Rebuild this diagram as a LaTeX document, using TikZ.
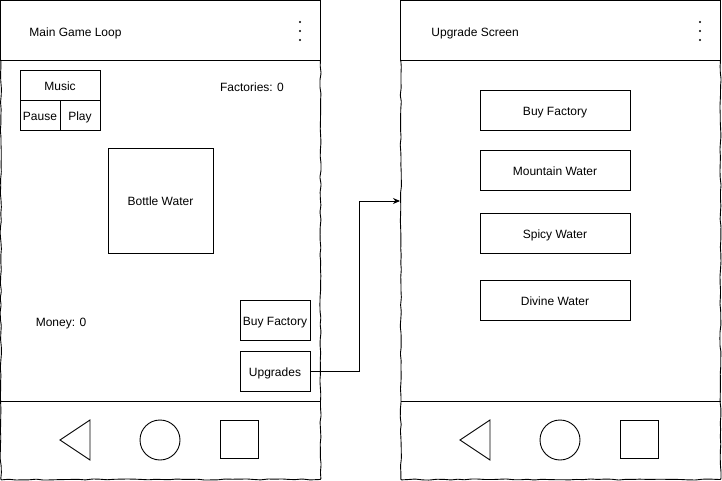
\documentclass[tikz,border=0pt]{standalone}
\usepackage{fontspec}
\setmainfont{Liberation Sans}
\usetikzlibrary{arrows.meta,decorations.pathmorphing}

\tikzset{
  ui/.style={font=\fontsize{12}{14}\selectfont, inner sep=0pt, text height=10.5pt, text depth=0pt},
  btn/.style={ui, draw},
  wobble/.style={decorate, decoration={random steps, segment length=7pt, amplitude=0.6pt},
                 rounded corners=0.8pt},
}

\begin{document}
\begin{tikzpicture}[x=1pt, y=-1pt, line width=0.9pt]
  \pgfmathsetseed{7}
  \useasboundingbox (0,0) rectangle (722,481);

  % the two phone frames
  \foreach \dx in {0,400} {
    \begin{scope}[xshift=\dx]
      \draw                (0.5,0.5) rectangle (320.5,60);
      \draw[wobble]        (0.8,60) -- (0.8,479.5) -- (320.5,479.5) -- (320.5,60);
      \draw                (0.5,401) -- (320.5,401);
      \fill                (300,22) circle (1.1) (300,31) circle (1.1) (300,40) circle (1.1);
      \draw                (60,440) -- (90,420) -- (90,460) -- cycle;
      \draw                (160,440) circle (20);
      \draw                (220,420) rectangle (258,458);
    \end{scope}
  }

  % main game loop
  \node[ui, anchor=west]  (title1)    at (29,31)   {Main Game Loop};
  \node[btn, minimum width=80, minimum height=30] (music) at (60,85)  {Music};
  \node[btn, minimum width=40, minimum height=30] (pause) at (40,115) {Pause};
  \node[btn, minimum width=40, minimum height=30] (play)  at (80,115) {Play};
  \node[ui]               (factories) at (252,86)  {Factories: 0};
  \node[btn, minimum width=105, minimum height=105] (bottle) at (160.5,200.5) {Bottle Water};
  \node[ui]               (money)     at (61,321)  {Money: 0};
  \node[btn, minimum width=70, minimum height=40] (buyfac)   at (275,320.5) {Buy Factory};
  \node[btn, minimum width=70, minimum height=40] (upgrades) at (275,371)   {Upgrades};

  % upgrade screen
  \node[ui, anchor=west]  (title2)    at (431,31)  {Upgrade Screen};
  \node[btn, minimum width=150, minimum height=40] (shopfac)  at (555,110) {Buy Factory};
  \node[btn, minimum width=150, minimum height=40] (mountain) at (555,170) {Mountain Water};
  \node[btn, minimum width=150, minimum height=40] (spicy)    at (555,233) {Spicy Water};
  \node[btn, minimum width=150, minimum height=40] (divine)   at (555,300) {Divine Water};

  \coordinate (screen2) at (400,201);
  \draw[-{Stealth[length=7pt,width=6pt]}] (upgrades.east) -- ++(49,0) |- (screen2);
\end{tikzpicture}
\end{document}
